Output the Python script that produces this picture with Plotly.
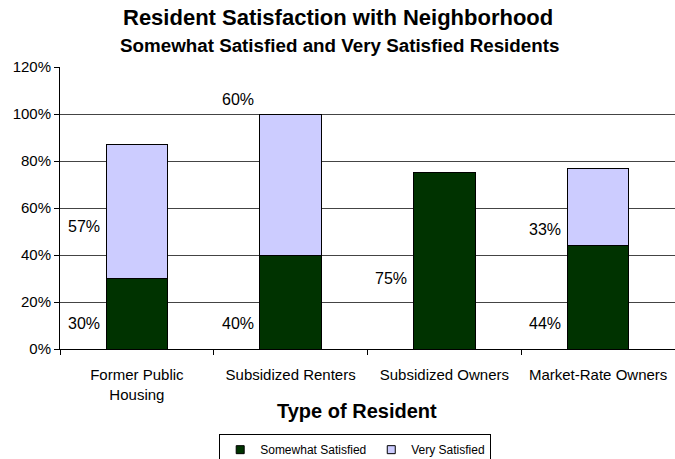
import plotly.graph_objects as go

categories = ["Former Public<br>Housing", "Subsidized Renters", "Subsidized Owners", "Market-Rate Owners"]
somewhat = [30, 40, 75, 44]
very = [57, 60, 0, 33]
somewhat_labels = ["30%", "40%", "75%", "44%"]
very_labels = ["57%", "60%", "", "33%"]
# label placement (as in the original chart, manually placed to the left of bars)
somewhat_label_y = [11, 11, 30, 11]
very_label_y = [52, 106, None, 51]

FONT = "Liberation Sans, Arial, sans-serif"
GREEN = "#003300"
LAV = "#CCCCFF"

fig = go.Figure()
fig.add_trace(go.Bar(x=categories, y=somewhat, name="Somewhat Satisfied",
                     marker=dict(color=GREEN, line=dict(color="#000000", width=1)),
                     width=0.4, showlegend=False))
fig.add_trace(go.Bar(x=categories, y=very, name="Very Satisfied",
                     marker=dict(color=LAV, line=dict(color="#000000", width=1)),
                     width=0.4, showlegend=False))
# legend entries with small square swatches
for nm, col in [("Somewhat Satisfied", GREEN), ("Very Satisfied", LAV)]:
    fig.add_trace(go.Scatter(x=[None], y=[None], mode="markers", name=nm,
                             marker=dict(symbol="square", size=8, color=col,
                                         line=dict(color="#000", width=1)),
                             showlegend=True))

ann = []
for c, yv, t in zip(categories, somewhat_label_y, somewhat_labels):
    ann.append(dict(x=c, y=yv, xref="x", yref="y", text=t, showarrow=False,
                    xanchor="right", yanchor="middle", xshift=-35,
                    font=dict(family=FONT, size=16, color="#000")))
for c, yv, t in zip(categories, very_label_y, very_labels):
    if yv is None or not t:
        continue
    ann.append(dict(x=c, y=yv, xref="x", yref="y", text=t, showarrow=False,
                    xanchor="right", yanchor="middle", xshift=-35,
                    font=dict(family=FONT, size=16, color="#000")))

ann.append(dict(x=0.452, y=1.177, xref="paper", yref="paper", showarrow=False,
                text="<b>Resident Satisfaction with Neighborhood</b>",
                xanchor="center", yanchor="middle",
                font=dict(family=FONT, size=22, color="#000")))
ann.append(dict(x=0.455, y=1.078, xref="paper", yref="paper", showarrow=False,
                text="<b>Somewhat Satisfied and Very Satisfied Residents</b>",
                xanchor="center", yanchor="middle",
                font=dict(family=FONT, size=18.8, color="#000")))
ann.append(dict(x=0.483, y=-0.22, xref="paper", yref="paper", showarrow=False,
                text="<b>Type of Resident</b>",
                xanchor="center", yanchor="middle",
                font=dict(family=FONT, size=20, color="#000")))

fig.update_layout(
    barmode="stack",
    width=675, height=459,
    margin=dict(l=60, r=0, t=67, b=110, autoexpand=False),
    paper_bgcolor="white", plot_bgcolor="white",
    font=dict(family=FONT, size=15, color="#000"),
    showlegend=True,
    legend=dict(orientation="h", x=0.48, xanchor="center", y=-0.302, yanchor="top",
                bordercolor="#000", borderwidth=1, font=dict(size=12),
                itemwidth=30, traceorder="normal"),
    annotations=ann,
)
fig.update_xaxes(type="category", showline=True, linecolor="#000", linewidth=1,
                 ticks="outside", ticklen=5, tickcolor="#000", tickson="boundaries",
                 showgrid=False, tickfont=dict(size=15), automargin=False,
                 ticklabelstandoff=12)
fig.update_yaxes(range=[0, 120], dtick=20, ticksuffix="%", showline=True,
                 linecolor="#000", linewidth=1, ticks="outside", ticklen=5,
                 tickcolor="#000", showgrid=True, gridcolor="#444", gridwidth=1,
                 zeroline=False, tickfont=dict(size=15), automargin=False)

fig.write_html("out.html", config={"displayModeBar": False},
               post_script="document.body.style.margin='0';")
